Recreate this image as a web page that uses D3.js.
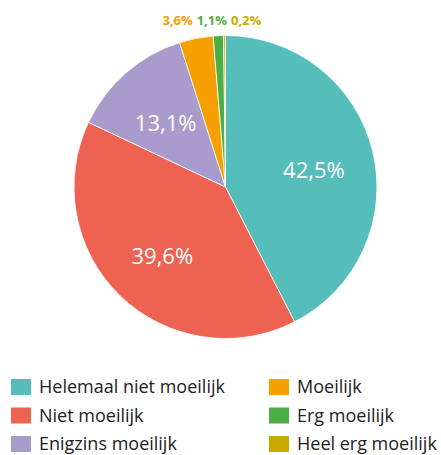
<!DOCTYPE html>
<html>
<head>
<meta charset="utf-8">
<script src="https://cdn.jsdelivr.net/npm/d3@7"></script>
<style>
  body { margin: 0; background: #ffffff; }
  text { font-family: "Open Sans", sans-serif; }
</style>
</head>
<body>
<div id="chart"></div>
<script>
// answers and their shares (percent)
var categories = ["Helemaal niet moeilijk", "Niet moeilijk", "Enigzins moeilijk", "Moeilijk", "Erg moeilijk", "Heel erg moeilijk"];
var values = [42.5, 39.6, 13.1, 3.6, 1.1, 0.2];
var labels = ["42,5%", "39,6%", "13,1%", "3,6%", "1,1%", "0,2%"];
var colours = ["#55bdba", "#ee6252", "#a99bcb", "#f5a000", "#4dae45", "#c9a900"];

const width = 441, height = 455;
const cx = 225.5, cy = 187, radius = 151.5;

var svg = d3.select("#chart").append("svg")
    .attr("width", width)
    .attr("height", height);

var data = categories.map(function(c, i) {
  return {name: c, value: values[i], label: labels[i], colour: colours[i]};
});

var pie = d3.pie()
    .sort(null)
    .value(function(d) { return d.value; });

var arcs = pie(data);

var arc = d3.arc().innerRadius(0).outerRadius(radius);
var labelArc = d3.arc().innerRadius(radius * 0.6).outerRadius(radius * 0.6);
var outerArc = d3.arc().innerRadius(radius + 15).outerRadius(radius + 15);

var pieGroup = svg.append("g")
    .attr("transform", "translate(" + cx + "," + cy + ")");

pieGroup.selectAll("path.slice")
    .data(arcs)
    .enter()
    .append("path")
    .attr("class", "slice")
    .attr("d", arc)
    .attr("fill", function(d) { return d.data.colour; })
    .attr("stroke", "#ffffff")
    .attr("stroke-width", 0.8);

// big slices get the label inside
var inside = arcs.filter(function(d) { return d.data.value > 10; });
pieGroup.selectAll("text.inside")
    .data(inside)
    .enter()
    .append("text")
    .attr("class", "inside")
    .attr("transform", function(d) { return "translate(" + labelArc.centroid(d) + ")"; })
    .attr("text-anchor", "middle")
    .attr("dy", "0.55em")
    .attr("font-size", "22px")
    .attr("fill", "#ffffff")
    .text(function(d) { return d.data.label; });

// small slices: labels in a row above the pie, pushed apart
var outside = arcs.filter(function(d) { return d.data.value <= 10; });
var outLabels = pieGroup.selectAll("text.outside")
    .data(outside)
    .enter()
    .append("text")
    .attr("class", "outside")
    .attr("text-anchor", "middle")
    .attr("dy", "0.35em")
    .attr("y", -(radius + 15))
    .attr("font-size", "13px")
    .attr("font-weight", "bold")
    .attr("fill", function(d) { return d.data.colour; })
    .text(function(d) { return d.data.label; });

var boxes = [];
outLabels.each(function(d) {
  boxes.push({x: outerArc.centroid(d)[0], w: this.getComputedTextLength()});
});
var gap = 4;
for (let it = 0; it < 200; it++) {
  for (let i = 0; i < boxes.length - 1; i++) {
    var a = boxes[i], b = boxes[i + 1];
    var overlap = (a.x + a.w / 2 + gap) - (b.x - b.w / 2);
    if (overlap > 0) {
      a.x -= overlap / 2;
      b.x += overlap / 2;
    }
  }
}
outLabels.attr("x", function(d, i) { return boxes[i].x; });

// legend, two columns
var legend = svg.append("g").attr("class", "legend");
var rows = 3;
var colX = d3.scaleOrdinal().domain([0, 1]).range([11, 269]);
var rowY = d3.scaleLinear().domain([0, 1]).range([379, 407.5]);

var items = legend.selectAll("g.item")
    .data(data)
    .enter()
    .append("g")
    .attr("class", "item")
    .attr("transform", function(d, i) {
      return "translate(" + colX(Math.floor(i / rows)) + "," + rowY(i % rows) + ")";
    });

items.append("rect")
    .attr("width", 20)
    .attr("height", 16)
    .attr("fill", function(d) { return d.colour; });

items.append("text")
    .attr("x", 28)
    .attr("y", 14)
    .attr("font-size", "18px")
    .attr("fill", "#222222")
    .text(function(d) { return d.name; });
</script>
</body>
</html>
